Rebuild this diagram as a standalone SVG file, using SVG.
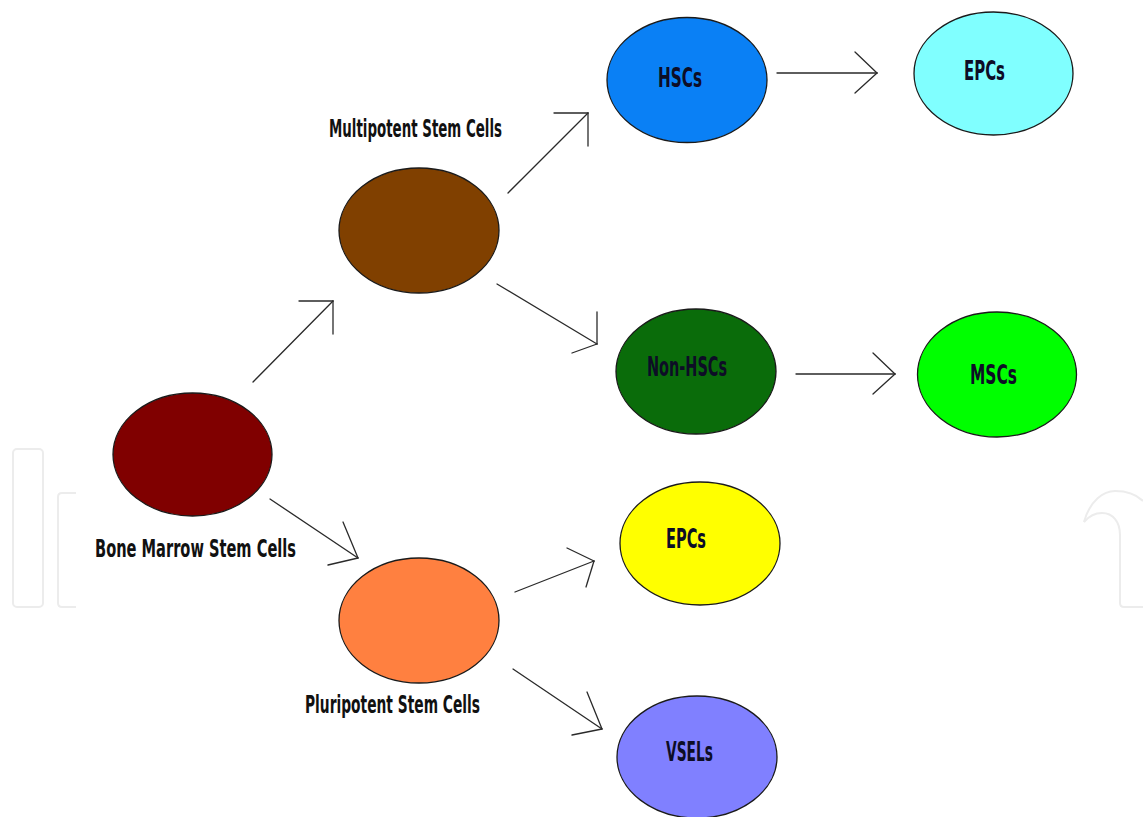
<svg xmlns="http://www.w3.org/2000/svg" width="1143" height="817" viewBox="0 0 1143 817">
<style>
.node{stroke:#1a1a1a;stroke-width:1.3}
.t{font-family:"DejaVu Sans Condensed","DejaVu Sans","Liberation Sans",sans-serif;font-stretch:condensed;font-weight:bold;fill:#111}
.nt{font-size:27px;fill:#0d0d26}
.lt{font-size:25px}
.c line{stroke:#2a2a2a;stroke-width:1.3;stroke-linecap:round}
.wm{fill:none;stroke:#ececec;stroke-width:2}
</style>
<rect width="1143" height="817" fill="#fff"/>
<g id="watermark" class="wm">
<rect x="13" y="449" width="30" height="158" rx="4"/>
<path d="M76,493 H62 Q58,493 58,497 V603 Q58,607 62,607 H76"/>
<path d="M1084,522 C1090,500 1104,491 1115,491 C1127,491 1137,495 1143,501"/>
<path d="M1084,522 C1090,515 1096,513 1102,513 C1113,513 1120,522 1120,535 V603 Q1120,607 1124,607 H1143"/>
</g>
<g class="c" id="connectors">
<line x1="253" y1="382" x2="333" y2="301"/><line x1="299" y1="301" x2="333" y2="301"/><line x1="333" y1="301" x2="333" y2="334"/>
<line x1="508" y1="193" x2="588" y2="113"/><line x1="554" y1="113" x2="588" y2="113"/><line x1="588" y1="113" x2="588" y2="146"/>
<line x1="777" y1="73" x2="877" y2="73"/><line x1="855" y1="52" x2="877" y2="73"/><line x1="855" y1="93" x2="877" y2="73"/>
<line x1="497" y1="284" x2="597" y2="344"/><line x1="597" y1="312" x2="597" y2="344"/><line x1="572" y1="353" x2="597" y2="344"/>
<line x1="796" y1="374" x2="895" y2="374"/><line x1="873" y1="353" x2="895" y2="374"/><line x1="873" y1="394" x2="895" y2="374"/>
<line x1="270" y1="499" x2="358" y2="558"/><line x1="343" y1="522" x2="358" y2="558"/><line x1="328" y1="565" x2="358" y2="558"/>
<line x1="515" y1="592" x2="594" y2="561"/><line x1="567" y1="548" x2="594" y2="561"/><line x1="586" y1="587" x2="594" y2="561"/>
<line x1="513" y1="669" x2="602" y2="729"/><line x1="587" y1="692" x2="602" y2="729"/><line x1="572" y1="735" x2="602" y2="729"/>
</g>
<g id="bone-marrow">
<ellipse class="node" cx="192.5" cy="454.5" rx="79.5" ry="61.5" fill="#800000"/>
<text class="t lt" x="95" y="557" textLength="201" lengthAdjust="spacingAndGlyphs">Bone Marrow Stem Cells</text>
</g>
<g id="multipotent">
<ellipse class="node" cx="419" cy="230.5" rx="80" ry="62.5" fill="#804000"/>
<text class="t lt" x="329" y="137" textLength="173" lengthAdjust="spacingAndGlyphs">Multipotent Stem Cells</text>
</g>
<g id="pluripotent">
<ellipse class="node" cx="419" cy="620.5" rx="80" ry="62.5" fill="#ff8040"/>
<text class="t lt" x="305" y="713" textLength="175" lengthAdjust="spacingAndGlyphs">Pluripotent Stem Cells</text>
</g>
<g id="hscs">
<ellipse class="node" cx="687" cy="80" rx="80" ry="62.5" fill="#0a80f5"/>
<text class="t nt" x="658" y="87" textLength="44" lengthAdjust="spacingAndGlyphs">HSCs</text>
</g>
<g id="epcs-top">
<ellipse class="node" cx="993.5" cy="73.5" rx="79.5" ry="61.5" fill="#80ffff"/>
<text class="t nt" x="964" y="80" textLength="41" lengthAdjust="spacingAndGlyphs">EPCs</text>
</g>
<g id="non-hscs">
<ellipse class="node" cx="696" cy="371.5" rx="80" ry="62.5" fill="#0a6c0a"/>
<text class="t nt" x="647" y="376" textLength="80" lengthAdjust="spacingAndGlyphs">Non-HSCs</text>
</g>
<g id="mscs">
<ellipse class="node" cx="997" cy="374.5" rx="79.5" ry="62.5" fill="#00ff00"/>
<text class="t nt" x="970" y="384" textLength="47" lengthAdjust="spacingAndGlyphs">MSCs</text>
</g>
<g id="epcs-yellow">
<ellipse class="node" cx="700" cy="543.5" rx="80" ry="61.5" fill="#ffff00"/>
<text class="t nt" x="666" y="548" textLength="40" lengthAdjust="spacingAndGlyphs">EPCs</text>
</g>
<g id="vsels">
<ellipse class="node" cx="697" cy="757" rx="80" ry="61" fill="#8080ff"/>
<text class="t nt" x="666" y="761" textLength="47" lengthAdjust="spacingAndGlyphs">VSELs</text>
</g>
</svg>
